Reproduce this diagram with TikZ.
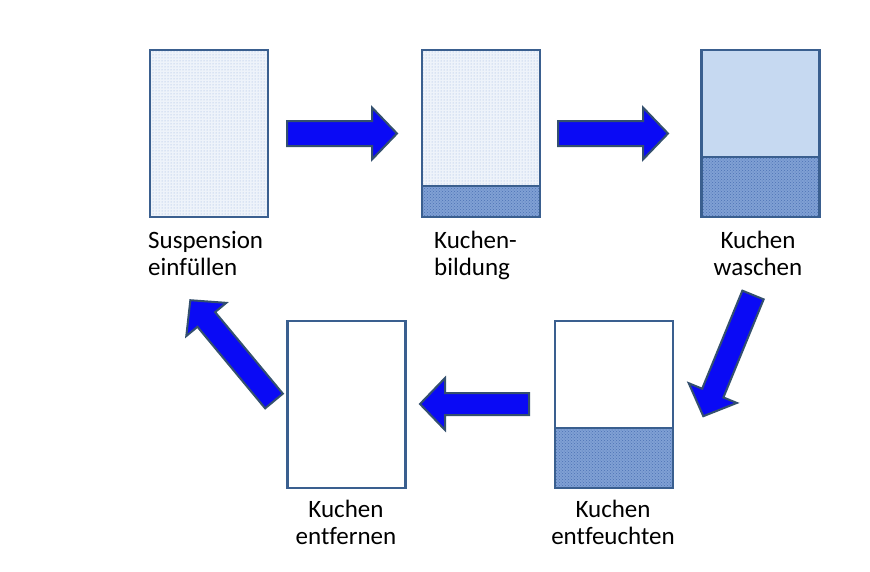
\documentclass[tikz,border=0pt]{standalone}
\usepackage{fontspec}
\setmainfont{Carlito}[Ligatures={NoCommon}]
\usetikzlibrary{patterns}
\definecolor{frameblue}{HTML}{3A5F8F}
\definecolor{suspfill}{HTML}{EEF3FA}
\definecolor{suspdot}{HTML}{94B0DE}
\definecolor{cakefill}{HTML}{80A0D4}
\definecolor{cakedot}{HTML}{4C72B5}
\definecolor{washfill}{HTML}{C6D9F1}
\definecolor{arrowfill}{HTML}{0A0AF5}
\definecolor{arrowline}{HTML}{34506E}
\newcommand\blockarr[6]{% x,y,angle,length,bodyhalf,headhalf
  \begin{scope}[shift={(#1,#2)},rotate=#3]
    \draw[barrow] (0,-#5) -- (#4-25,-#5) -- (#4-25,-#6) -- (#4,0) -- (#4-25,#6) -- (#4-25,#5) -- (0,#5) -- cycle;
  \end{scope}}
\begin{document}
\begin{tikzpicture}[x=1pt,y=-1pt,
  boxframe/.style={draw=frameblue,line width=2.8pt,outer sep=0pt,inner sep=0pt,minimum width=118pt,minimum height=167pt},
  susp/.style={preaction={fill=suspfill},pattern=dots,pattern color=suspdot},
  cake/.style={preaction={fill=cakefill},pattern=crosshatch dots,pattern color=cakedot},
  barrow/.style={fill=arrowfill,draw=arrowline,line width=2pt,line join=miter},
  lbl/.style={font=\fontsize{25}{27}\selectfont,inner sep=0pt,anchor=north}]
\fill[white] (0,0) rectangle (870,571);
\useasboundingbox (0,0) rectangle (870,571);

% top row boxes
\node[boxframe,susp] (b1) at (209,133.5) {};
\node[boxframe,susp] (b2) at (481,133.5) {};
\node[boxframe,fill=washfill] (b3) at (760.5,133.5) {};
% bottom row boxes
\node[boxframe,fill=white] (b4) at (614,404.5) {};
\node[boxframe,fill=white] (b5) at (346.5,404.5) {};

% cakes
\path[cake] (422,186) rectangle (540,217);
\draw[frameblue,line width=2.8pt] (b2.north west) rectangle (b2.south east) (422,186) -- (540,186);
\path[cake] (701.5,157) rectangle (819.5,217);
\draw[frameblue,line width=2.8pt] (b3.north west) rectangle (b3.south east) (701.5,157) -- (819.5,157);
\path[cake] (555,428) rectangle (673,488);
\draw[frameblue,line width=2.8pt] (b4.north west) rectangle (b4.south east) (555,428) -- (673,428);

% arrows
\blockarr{287}{133.5}{0}{110}{12.5}{26}
\blockarr{558}{133.5}{0}{110}{12.5}{26}
\blockarr{753}{295}{247.7}{131}{11.5}{26}
\blockarr{529}{404}{180}{109}{11}{26}
\blockarr{274}{401}{129.7}{131}{11.5}{26}

% labels
\node[lbl,align=left,anchor=north west] (t1) at (148,231) {Suspension\\einfüllen};
\node[lbl,align=left,anchor=north west] (t2) at (434,231) {Kuchen-\\bildung};
\node[lbl,align=center] (t3) at (758,231) {Kuchen\\waschen};
\node[lbl,align=center] (t4) at (613,500) {Kuchen\\entfeuchten};
\node[lbl,align=center] (t5) at (346,500) {Kuchen\\entfernen};
\end{tikzpicture}
\end{document}
